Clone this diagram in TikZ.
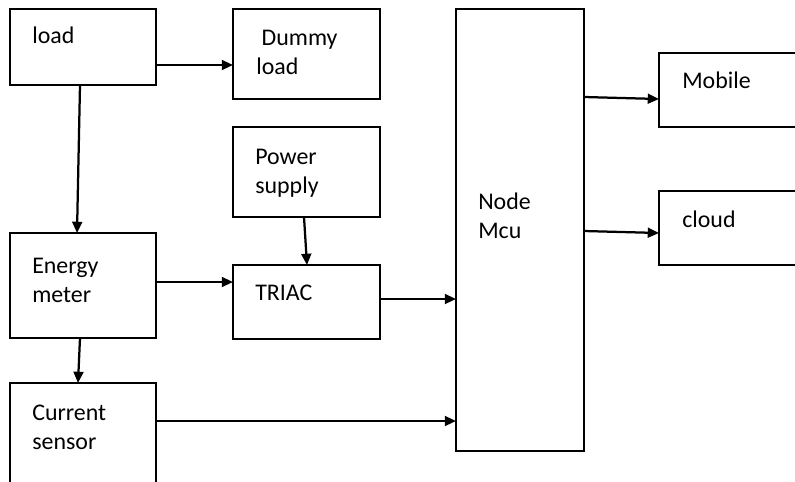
\documentclass[tikz,border=0pt]{standalone}
\usepackage{fontspec}
\setmainfont{Carlito}
\usetikzlibrary{positioning,arrows.meta,calc}

\tikzset{
  blk/.style={draw, line width=1.7pt, inner sep=0pt, outer sep=0pt, anchor=north west},
  txt/.style={anchor=base west, inner sep=0pt, align=left,
    font=\fontsize{17}{20.6}\selectfont},
  arr/.style={line width=1.6pt, -{Triangle[length=8pt,width=7pt]}}
}

\begin{document}
\begin{tikzpicture}[x=0.025cm,y=-0.025cm]
\clip (0,0) rectangle (795,481);
\fill[white] (0,0) rectangle (795,481);

% blocks
\node[blk, minimum width=146*0.025cm, minimum height=76*0.025cm] (load) at (10,9) {};
\node[blk, minimum width=147*0.025cm, minimum height=90*0.025cm] (dummy) at (233,9) {};
\node[blk, minimum width=147*0.025cm, minimum height=90*0.025cm] (power) at (233,127) {};
\node[blk, minimum width=147*0.025cm, minimum height=74*0.025cm] (triac) at (233,265) {};
\node[blk, minimum width=146*0.025cm, minimum height=105*0.025cm] (energy) at (10,233) {};
\node[blk, minimum width=146*0.025cm, minimum height=115*0.025cm] (current) at (10,383) {};
\node[blk, minimum width=128*0.025cm, minimum height=442*0.025cm] (mcu) at (456,9) {};
\node[blk, minimum width=150*0.025cm, minimum height=74*0.025cm] (mobile) at (659,53) {};
\node[blk, minimum width=150*0.025cm, minimum height=74*0.025cm] (cloud) at (659,191) {};

% texts (base of the last line)
\node[txt] (loadtxt) at (32,43) {load};
\node[txt] (dummytxt) at (256,74) {\ Dummy\\load};
\node[txt] (powertxt) at (255,193) {Power\\supply};
\node[txt] (triactxt) at (255,300) {TRIAC};
\node[txt] (energytxt) at (32,302) {Energy\\meter};
\node[txt] (currenttxt) at (32,449) {Current\\sensor};
\node[txt] (mcutxt) at (478,238) {Node\\Mcu};
\node[txt] (mobiletxt) at (682,88) {Mobile};
\node[txt] (cloudtxt) at (682,227) {cloud};

% connectors
\draw[arr] ($(load.north east)+(0,56)$) -- ($(dummy.north west)+(0,56)$);
\draw[arr] ($(load.south west)+(70,0)$) -- ($(energy.north west)+(67,0)$);
\draw[arr] ($(energy.north east)+(0,49)$) -- ($(triac.north west)+(0,17)$);
\draw[arr] ($(power.south west)+(71,0)$) -- ($(triac.north west)+(74,0)$);
\draw[arr] ($(energy.south west)+(70,0)$) -- ($(current.north west)+(68,0)$);
\draw[arr] ($(triac.north east)+(0,34)$) -- ($(mcu.north west)+(0,290)$);
\draw[arr] ($(current.north east)+(0,38)$) -- ($(mcu.north west)+(0,412)$);
\draw[arr] ($(mcu.north east)+(0,88)$) -- ($(mobile.north west)+(0,46)$);
\draw[arr] ($(mcu.north east)+(0,222)$) -- ($(cloud.north west)+(0,42)$);
\end{tikzpicture}
\end{document}
